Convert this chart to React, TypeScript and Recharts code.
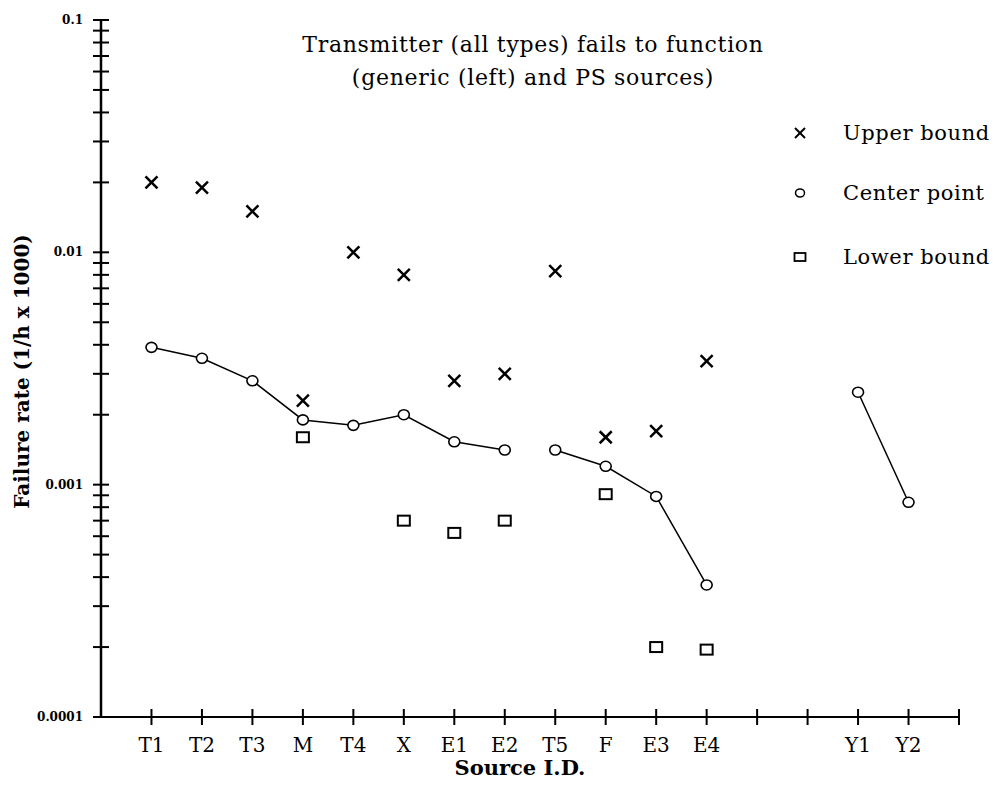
import React from "react";
import {
  ComposedChart,
  Line,
  XAxis,
  YAxis,
} from "recharts";

// source ids along the x axis (two unlabelled slots before Y1)
const categories = ["T1", "T2", "T3", "M", "T4", "X", "E1", "E2", "T5", "F", "E3", "E4", "", "", "Y1", "Y2"];

const upperBound = [0.02, 0.019, 0.015, 0.0023, 0.01, 0.008, 0.0028, 0.003, 0.0083, 0.0016, 0.0017, 0.0034, null, null, null, null];
const centerPoint = [0.0039, 0.0035, 0.0028, 0.0019, 0.0018, 0.002, 0.00153, 0.00141, 0.00141, 0.0012, 0.00089, 0.00037, null, null, 0.0025, 0.00084];
const lowerBound = [null, null, null, 0.0016, null, 0.0007, 0.00062, 0.0007, null, 0.00091, 0.0002, 0.000195, null, null, null, null];

// which connected line segment each center point belongs to
const centerSegment = [1, 1, 1, 1, 1, 1, 1, 1, 2, 2, 2, 2, 0, 0, 3, 3];

const decadeTicks = [0.0001, 0.001, 0.01, 0.1];
const decadeLabels = ["0.0001", "0.001", "0.01", "0.1"];
const minorSteps = [2, 3, 4, 5, 6, 7, 8, 9];

const xTicks = [1, 2, 3, 4, 5, 6, 7, 8, 9, 10, 11, 12, 13, 14, 15, 16, 17];

const yTicks = decadeTicks.flatMap((d, i) =>
  i < decadeTicks.length - 1 ? [d, ...minorSteps.map((m) => m * d)] : [d]
);

const data = categories.map((name, i) => ({
  x: i + 1,
  name,
  upper: upperBound[i],
  center: centerPoint[i],
  lower: lowerBound[i],
  seg1: centerSegment[i] === 1 ? centerPoint[i] : null,
  seg2: centerSegment[i] === 2 ? centerPoint[i] : null,
  seg3: centerSegment[i] === 3 ? centerPoint[i] : null,
}));

const FONT = "'DejaVu Serif', serif";

const CrossDot = (props: any) => {
  const { cx, cy, index } = props;
  if (cx == null || cy == null || props.value == null) return <g key={"u" + index} />;
  return (
    <g key={"u" + index}>
      <line x1={cx - 6} y1={cy - 6} x2={cx + 6} y2={cy + 6} stroke="#000" strokeWidth={2.5} />
      <line x1={cx - 6} y1={cy + 6} x2={cx + 6} y2={cy - 6} stroke="#000" strokeWidth={2.5} />
    </g>
  );
};

const CircleDot = (props: any) => {
  const { cx, cy, index } = props;
  if (cx == null || cy == null || props.value == null) return <g key={"c" + index} />;
  return <ellipse key={"c" + index} cx={cx} cy={cy} rx={5.5} ry={5} fill="#fff" stroke="#000" strokeWidth={1.6} />;
};

const SquareDot = (props: any) => {
  const { cx, cy, index } = props;
  if (cx == null || cy == null || props.value == null) return <g key={"l" + index} />;
  return <rect key={"l" + index} x={cx - 6} y={cy - 5} width={12} height={10} fill="none" stroke="#000" strokeWidth={2} />;
};

const YTick = (props: any) => {
  const { x, y, payload } = props;
  const axisX = x + 20;
  const idx = decadeTicks.findIndex((d) => Math.abs(d - payload.value) / d < 1e-6);
  return (
    <g>
      <line x1={axisX - 8} x2={axisX + 8} y1={y} y2={y} stroke="#000" strokeWidth={2} />
      {idx >= 0 && (
        <text x={x + 2} y={y} dy={4} textAnchor="end" fontFamily={FONT} fontSize={12} fontWeight="bold" fill="#000">
          {decadeLabels[idx]}
        </text>
      )}
    </g>
  );
};

const XTick = (props: any) => {
  const { x, y, payload } = props;
  const axisY = y - 20;
  const label = categories[payload.value - 1] ?? "";
  return (
    <g>
      <line x1={x} x2={x} y1={axisY - 8} y2={axisY + 8} stroke="#000" strokeWidth={2} />
      <text x={x} y={axisY + 35} textAnchor="middle" fontFamily={FONT} fontSize={20} fill="#000">
        {label}
      </text>
    </g>
  );
};

const XLabel = (props: any) => {
  const { viewBox } = props;
  const cx = viewBox.x + viewBox.width / 2 - 10;
  return (
    <text x={cx} y={775} textAnchor="middle" fontFamily={FONT} fontSize={21} fontWeight="bold" fill="#000">
      Source I.D.
    </text>
  );
};

const YLabel = (props: any) => {
  const { viewBox } = props;
  const cx = viewBox.x + 11;
  const cy = viewBox.y + viewBox.height / 2 + 3;
  return (
    <text
      x={cx}
      y={cy}
      transform={`rotate(-90 ${cx} ${cy})`}
      textAnchor="middle"
      dominantBaseline="central"
      fontFamily={FONT}
      fontSize={20}
      fontWeight="bold"
      fill="#000"
    >
      Failure rate (1/h x 1000)
    </text>
  );
};

const legendItems = [
  { label: "Upper bound", top: 133, kind: "x" },
  { label: "Center point", top: 193, kind: "o" },
  { label: "Lower bound", top: 257, kind: "s" },
];

function LegendMarker({ kind }: { kind: string }) {
  return (
    <svg width={16} height={16} style={{ position: "absolute", left: 792, top: -8 }}>
      {kind === "x" && (
        <g stroke="#000" strokeWidth={2}>
          <line x1={3} y1={3} x2={13} y2={13} />
          <line x1={3} y1={13} x2={13} y2={3} />
        </g>
      )}
      {kind === "o" && <ellipse cx={8} cy={8} rx={4.5} ry={4} fill="none" stroke="#000" strokeWidth={1.5} />}
      {kind === "s" && <rect x={2.5} y={4} width={11} height={8} fill="none" stroke="#000" strokeWidth={1.8} />}
    </svg>
  );
}

export default function App() {
  return (
    <div style={{ position: "absolute", left: 0, top: 0, width: 1000, height: 787, background: "#fff", fontFamily: FONT }}>
      <ComposedChart
        width={1000}
        height={787}
        data={data}
        margin={{ top: 20, right: 41, left: 11, bottom: 8 }}
      >
        <XAxis
          dataKey="x"
          type="number"
          domain={[0, 17]}
          ticks={xTicks}
          interval={0}
          height={62}
          tickSize={8}
          tickMargin={12}
          tickLine={false}
          tick={<XTick />}
          axisLine={{ stroke: "#000", strokeWidth: 2 }}
          label={<XLabel />}
        />
        <YAxis
          type="number"
          scale="log"
          domain={[0.0001, 0.1]}
          allowDataOverflow
          ticks={yTicks}
          interval={0}
          width={90}
          tickSize={8}
          tickMargin={12}
          tickLine={false}
          tick={<YTick />}
          axisLine={{ stroke: "#000", strokeWidth: 2.5 }}
          label={<YLabel />}
        />
        <Line dataKey="seg1" stroke="#000" strokeWidth={1.5} dot={false} activeDot={false} connectNulls={false} isAnimationActive={false} />
        <Line dataKey="seg2" stroke="#000" strokeWidth={1.5} dot={false} activeDot={false} connectNulls={false} isAnimationActive={false} />
        <Line dataKey="seg3" stroke="#000" strokeWidth={1.5} dot={false} activeDot={false} connectNulls={false} isAnimationActive={false} />
        <Line dataKey="upper" stroke="none" dot={CrossDot} activeDot={false} isAnimationActive={false} />
        <Line dataKey="center" stroke="none" dot={CircleDot} activeDot={false} isAnimationActive={false} />
        <Line dataKey="lower" stroke="none" dot={SquareDot} activeDot={false} isAnimationActive={false} />
      </ComposedChart>

      <div
        style={{
          position: "absolute",
          left: 233,
          top: 28,
          width: 600,
          textAlign: "center",
          fontSize: 22,
          letterSpacing: 0.7,
          lineHeight: "33px",
          color: "#000",
        }}
      >
        Transmitter (all types) fails to function
        <br />
        (generic (left) and PS sources)
      </div>

      {legendItems.map((it) => (
        <div key={it.label} style={{ position: "absolute", left: 0, top: it.top, width: 1000, height: 0 }}>
          <LegendMarker kind={it.kind} />
          <span
            style={{
              position: "absolute",
              left: 843,
              top: -14,
              fontSize: 21,
              letterSpacing: 0.6,
              lineHeight: "28px",
              whiteSpace: "nowrap",
              color: "#000",
            }}
          >
            {it.label}
          </span>
        </div>
      ))}
    </div>
  );
}
